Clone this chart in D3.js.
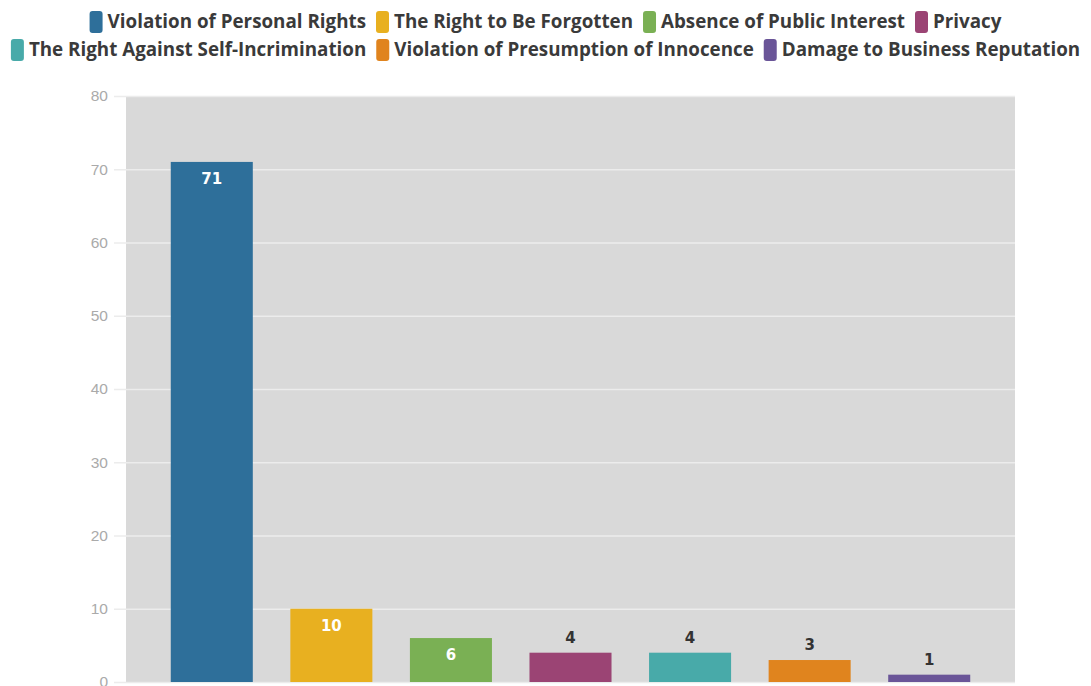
<!DOCTYPE html>
<html>
<head>
<meta charset="utf-8">
<script src="https://cdn.jsdelivr.net/npm/d3@7"></script>
<style>
  body { margin: 0; background: #fff; }
  svg { display: block; }
</style>
</head>
<body>
<div id="chart"></div>
<script>
var categories = ["Violation of Personal Rights", "The Right to Be Forgotten", "Absence of Public Interest", "Privacy",
  "The Right Against Self-Incrimination", "Violation of Presumption of Innocence", "Damage to Business Reputation"];
var values = [71, 10, 6, 4, 4, 3, 1];
var colors = ["#2e6f9a", "#e8b020", "#7ab054", "#9b4474", "#48aaa9", "#e0841e", "#6a5598"];
var yTicks = [0, 10, 20, 30, 40, 50, 60, 70, 80];

var W = 1091, H = 686;
var svg = d3.select("#chart").append("svg")
  .attr("width", W)
  .attr("height", H);

var y = d3.scaleLinear().domain([0, 80]).range([682, 96]);
var x = d3.scaleBand().domain(categories).range([152, 989]).paddingInner(0.314).paddingOuter(0.157);

// plot background
svg.append("rect")
  .attr("x", 126).attr("y", 96)
  .attr("width", 1015 - 126).attr("height", 682 - 96)
  .attr("fill", "#d9d9d9");

// grid + ticks
var yAxis = d3.axisLeft(y).tickValues(yTicks).tickSize(-(1015 - 114)).tickPadding(6);
var gy = svg.append("g").attr("transform", "translate(1015,0)").call(yAxis);
gy.select(".domain").remove();
gy.selectAll(".tick line").attr("stroke", "#ececec").attr("stroke-width", 1.5)
  .attr("x1", 0).attr("x2", -(1015 - 114));
gy.selectAll(".tick text")
  .attr("x", -(1015 - 108))
  .attr("fill", "#aaaaaa")
  .style("font-family", "Liberation Sans, Arial, sans-serif")
  .style("font-size", "15.5px");

// bars
svg.selectAll("rect.bar").data(values).enter().append("rect")
  .attr("class", "bar")
  .attr("x", function(d, i){ return x(categories[i]); })
  .attr("y", function(d){ return y(d); })
  .attr("width", x.bandwidth())
  .attr("height", function(d){ return y(0) - y(d); })
  .attr("fill", function(d, i){ return colors[i]; });

// value labels
svg.selectAll("text.val").data(values).enter().append("text")
  .attr("class", "val")
  .attr("x", function(d, i){ return x(categories[i]) + x.bandwidth() / 2; })
  .attr("y", function(d){ return d >= 6 ? y(d) + 22 : y(d) - 10; })
  .attr("text-anchor", "middle")
  .attr("fill", function(d){ return d >= 6 ? "#ffffff" : "#333333"; })
  .style("font-family", "DejaVu Sans, sans-serif")
  .style("font-weight", "bold")
  .style("font-size", "15px")
  .text(function(d){ return d; });

// legend
var rows = [[0, 1, 2, 3], [4, 5, 6]];
var rowY = [22, 50];
rows.forEach(function(row, r) {
  var g = svg.append("g");
  var cx = 0;
  row.forEach(function(i) {
    g.append("rect")
      .attr("x", cx).attr("y", rowY[r] - 11)
      .attr("width", 13).attr("height", 22)
      .attr("rx", 3)
      .attr("fill", colors[i]);
    var t = g.append("text")
      .attr("x", cx + 18).attr("y", rowY[r] + 6)
      .attr("fill", "#3a3a3a")
      .style("font-family", "Open Sans, sans-serif")
      .style("font-weight", "bold")
      .style("font-size", "18.8px")
      .text(categories[i]);
    cx += 18 + t.node().getComputedTextLength() + 10;
  });
  var total = cx - 10;
  g.attr("transform", "translate(" + ((W - total) / 2) + ",0)");
});
</script>
</body>
</html>
